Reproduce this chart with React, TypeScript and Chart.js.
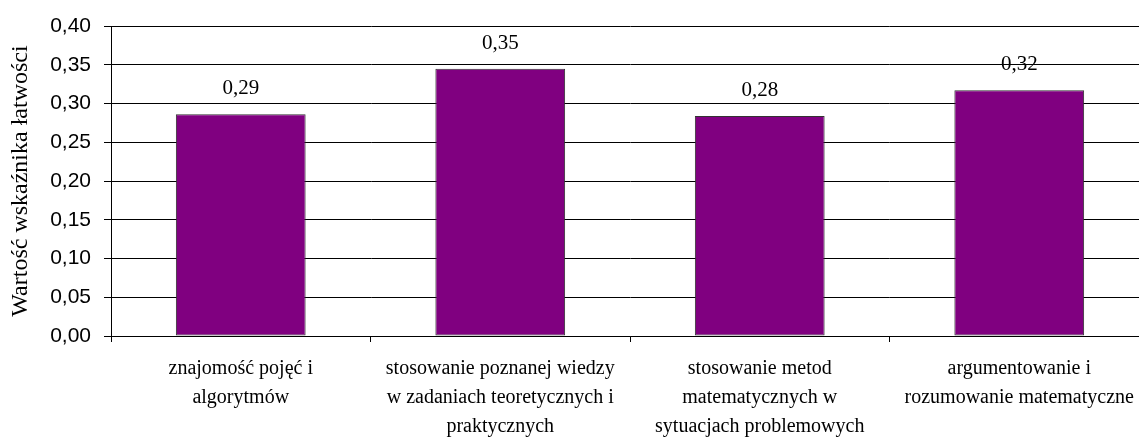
import React, { useEffect, useRef } from "react";
import { Chart, registerables } from "chart.js";

Chart.register(...registerables);

const categories: string[][] = [
  ["znajomość pojęć i", "algorytmów"],
  ["stosowanie poznanej wiedzy", "w zadaniach teoretycznych i", "praktycznych"],
  ["stosowanie metod", "matematycznych w", "sytuacjach problemowych"],
  ["argumentowanie i", "rozumowanie matematyczne"],
];
const values: number[] = [0.286, 0.345, 0.284, 0.317];
const valueLabels: string[] = ["0,29", "0,35", "0,28", "0,32"];
const yTitle = "Wartość wskaźnika łatwości";

const fmt = (v: number) => v.toFixed(2).replace(".", ",");
const SERIF = "'Liberation Serif', 'Times New Roman', serif";
const SANS = "'Liberation Sans', Arial, sans-serif";

const dataLabelPlugin = {
  id: "dataLabels",
  afterDatasetsDraw(chart: any) {
    const ctx = chart.ctx;
    const meta = chart.getDatasetMeta(0);
    ctx.save();
    ctx.font = `21px ${SERIF}`;
    ctx.fillStyle = "#000";
    ctx.textAlign = "center";
    ctx.textBaseline = "alphabetic";
    meta.data.forEach((bar: any, i: number) => {
      ctx.fillText(valueLabels[i], bar.x, bar.y - 20);
    });
    ctx.restore();
  },
};

export default function App() {
  const ref = useRef<HTMLCanvasElement>(null);
  useEffect(() => {
    document.body.style.margin = "0";
    document.body.style.overflow = "hidden";
    const chart = new Chart(ref.current!, {
      type: "bar",
      data: {
        labels: categories,
        datasets: [
          {
            data: values,
            backgroundColor: "#800080",
            borderColor: "#333333",
            borderWidth: 1,
            borderSkipped: false,
            barPercentage: 0.5,
            categoryPercentage: 1,
          },
        ],
      },
      options: {
        animation: false,
        responsive: false,
        maintainAspectRatio: false,
        layout: { padding: { top: 26, right: 1, left: 0, bottom: 0 } },
        plugins: { legend: { display: false }, tooltip: { enabled: false } },
        scales: {
          y: {
            min: 0,
            max: 0.4,
            afterFit: (s: any) => {
              s.width = 111;
            },
            ticks: {
              stepSize: 0.05,
              padding: 13,
              color: "#000",
              font: { family: SANS, size: 21 },
              callback: (v: any) => fmt(Number(v)),
            },
            grid: { color: "#000", lineWidth: 1, tickLength: 7, drawTicks: true },
            border: { color: "#000", width: 1 },
            title: {
              display: true,
              text: yTitle,
              color: "#000",
              padding: { top: 6, bottom: 0 },
              font: { family: SERIF, size: 24 },
            },
          },
          x: {
            afterFit: (s: any) => {
              s.height = 102;
            },
            ticks: {
              padding: 12,
              color: "#000",
              maxRotation: 0,
              autoSkip: false,
              font: { family: SERIF, size: 20, lineHeight: 1.45 },
            },
            grid: { offset: true, drawOnChartArea: false, drawTicks: true, tickLength: 6, color: "#000" },
            border: { color: "#000", width: 1 },
          },
        },
      },
      plugins: [dataLabelPlugin],
    });
    return () => chart.destroy();
  }, []);
  return (
    <div style={{ width: 1150, height: 438 }}>
      <canvas ref={ref} width={1150} height={438} style={{ width: 1150, height: 438 }} />
    </div>
  );
}
